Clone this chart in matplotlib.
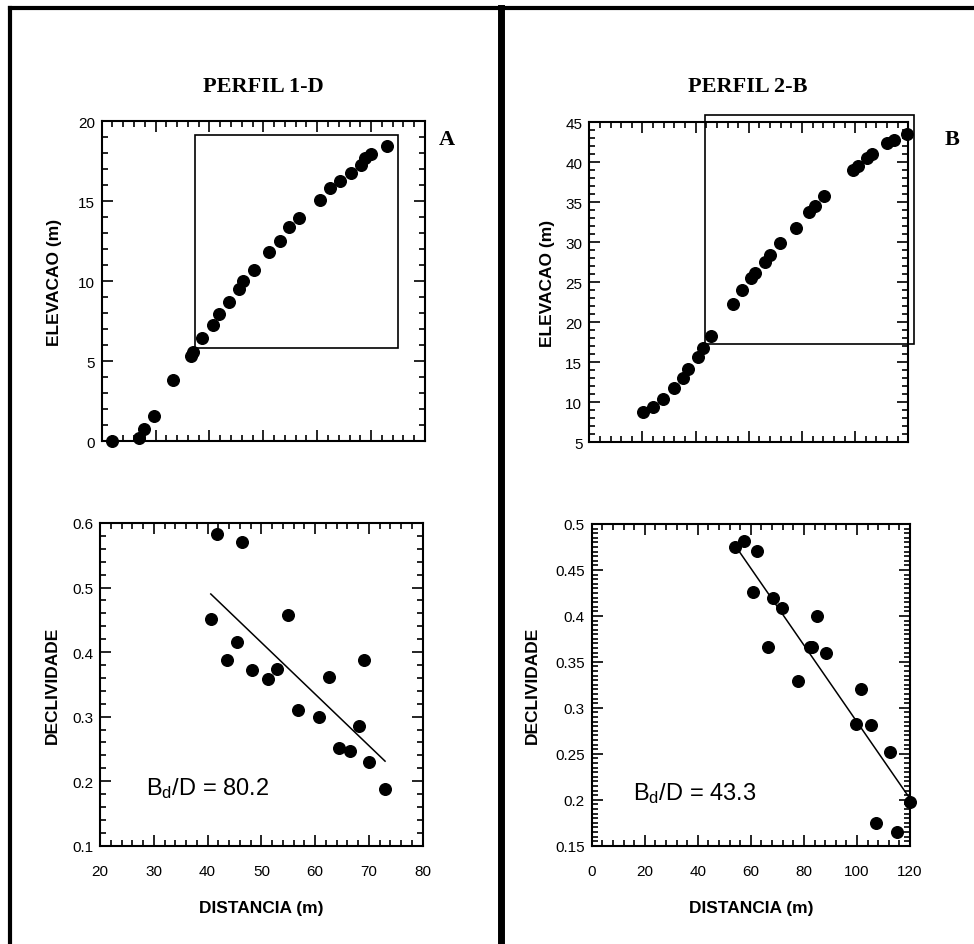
#!/usr/bin/env python3
"""
Perfis 1-D e 2-B: elevacao e declividade em funcao da distancia.
"""

import matplotlib
matplotlib.use('Agg')
import matplotlib.pyplot as plt
from matplotlib.patches import Rectangle
from matplotlib.lines import Line2D
from matplotlib.ticker import MultipleLocator, FuncFormatter

plt.rcParams['font.family'] = ['Liberation Sans', 'DejaVu Sans']
plt.rcParams['mathtext.default'] = 'regular'

# --- Perfil 1-D ---
dist_1d = [22.0, 26.9, 27.9, 29.7, 33.2, 36.6, 37.0, 38.7, 40.6, 41.8, 43.7, 45.5,
           46.3, 48.3, 51.1, 53.0, 54.8, 56.7, 60.5, 62.4, 64.3, 66.2, 68.1, 68.9,
           70.0, 72.9]
elev_1d = [0.0, 0.2, 0.77, 1.6, 3.83, 5.35, 5.6, 6.44, 7.29, 7.98, 8.73, 9.5,
           10.04, 10.73, 11.81, 12.52, 13.4, 13.96, 15.1, 15.83, 16.3, 16.8, 17.3, 17.7,
           17.94, 18.46]
box_1d_x = [37.3, 75.0]
box_1d_y = [5.85, 19.15]

dist_decl_1d = [40.6, 41.8, 46.4, 55.0, 45.5, 43.7, 48.3, 51.2, 53.0, 56.8, 60.7,
                62.5, 69.1, 68.2, 64.5, 66.4, 70.1, 72.9]
decl_1d = [0.451, 0.583, 0.570, 0.457, 0.415, 0.388, 0.372, 0.358, 0.374, 0.310,
           0.300, 0.361, 0.387, 0.285, 0.251, 0.247, 0.230, 0.188]
fit_1d_x = [40.6, 73.0]
fit_1d_y = [0.490, 0.231]

# --- Perfil 2-B ---
dist_2b = [20.1, 24.1, 27.8, 31.8, 35.1, 37.0, 41.0, 42.9, 45.8, 53.9, 57.3, 60.7,
           62.4, 66.2, 68.1, 71.7, 77.6, 82.6, 84.8, 88.3, 99.1, 101.2, 104.6, 106.5,
           112.0, 114.7, 119.5]
elev_2b = [8.75, 9.46, 10.4, 11.75, 13.1, 14.2, 15.7, 16.8, 18.3, 22.3, 24.0, 25.5,
           26.2, 27.6, 28.4, 29.9, 31.75, 33.75, 34.5, 35.8, 39.0, 39.6, 40.6, 41.0,
           42.4, 42.8, 43.5]
box_2b_x = [43.6, 122.3]
box_2b_y = [17.25, 45.96]

dist_decl_2b = [54.2, 57.5, 62.5, 60.8, 66.5, 68.2, 71.9, 77.7, 82.4, 83.1, 84.8,
                88.5, 99.6, 101.5, 105.2, 107.1, 112.5, 115.2, 120.0]
decl_2b = [0.4746, 0.4819, 0.471, 0.426, 0.3665, 0.419, 0.409, 0.3295, 0.366, 0.366,
           0.400, 0.360, 0.2824, 0.320, 0.281, 0.175, 0.252, 0.1645, 0.198]
fit_2b_x = [55.4, 119.7]
fit_2b_y = [0.471, 0.2024]

W, H = 974, 945
fig = plt.figure(figsize=(W / 100, H / 100), dpi=100)


def add_ax(left, top, right, bottom):
    return fig.add_axes([left / W, 1 - bottom / H, (right - left) / W, (bottom - top) / H])


short = FuncFormatter(lambda v, p: '%g' % round(v, 4))


def style(ax, xmaj, xmin, ymaj, ymin):
    ax.xaxis.set_major_locator(MultipleLocator(xmaj))
    ax.xaxis.set_minor_locator(MultipleLocator(xmin))
    ax.yaxis.set_major_locator(MultipleLocator(ymaj))
    ax.yaxis.set_minor_locator(MultipleLocator(ymin))
    ax.xaxis.set_major_formatter(short)
    ax.yaxis.set_major_formatter(short)
    ax.tick_params(which='both', direction='in', top=True, right=True, width=1.2,
                   labelsize=11)
    ax.tick_params(axis='y', pad=5)
    ax.tick_params(axis='x', pad=13)
    ax.tick_params(which='major', length=8)
    ax.tick_params(which='minor', length=4)
    for s in ax.spines.values():
        s.set_linewidth(1.5)


lab = dict(fontsize=12.5, fontweight='bold')
mk = dict(s=70, color='black', zorder=3, clip_on=False)

# top-left: elevation 1-D
ax1 = add_ax(101.7, 122.3, 425, 442.3)
ax1.scatter(dist_1d, elev_1d, **mk)
ax1.add_patch(Rectangle((box_1d_x[0], box_1d_y[0]), box_1d_x[1] - box_1d_x[0],
                        box_1d_y[1] - box_1d_y[0], fill=False, lw=1.2, color='black'))
ax1.set_xlim(20, 80)
ax1.set_ylim(0, 20)
style(ax1, 10, 2, 5, 1)
ax1.tick_params(labelbottom=False)
ax1.set_ylabel('ELEVACAO (m)', **lab)
ax1.yaxis.set_label_coords(-0.123, 0.5)

# bottom-left: declividade 1-D
ax2 = add_ax(100, 524, 422.7, 846.7)
ax2.scatter(dist_decl_1d, decl_1d, **mk)
ax2.plot(fit_1d_x, fit_1d_y, color='black', lw=1.1)
ax2.set_xlim(20, 80)
ax2.set_ylim(0.1, 0.6)
style(ax2, 10, 2, 0.1, 0.02)
ax2.set_ylabel('DECLIVIDADE', **lab)
ax2.yaxis.set_label_coords(-0.124, 0.5)
ax2.set_xlabel('DISTANCIA (m)', labelpad=16, **lab)
ax2.text(28.6, 0.19, 'B$_d$/D = 80.2', fontsize=17, va='center')

# top-right: elevation 2-B
ax3 = add_ax(589.3, 123.3, 908.3, 443.3)
ax3.scatter(dist_2b, elev_2b, **mk)
ax3.add_patch(Rectangle((box_2b_x[0], box_2b_y[0]), box_2b_x[1] - box_2b_x[0],
                        box_2b_y[1] - box_2b_y[0], fill=False, lw=1.2, color='black',
                        clip_on=False))
ax3.set_xlim(0, 120)
ax3.set_ylim(5, 45)
style(ax3, 20, 4, 5, 1)
ax3.tick_params(labelbottom=False)
ax3.set_ylabel('ELEVACAO (m)', **lab)
ax3.yaxis.set_label_coords(-0.107, 0.5)

# bottom-right: declividade 2-B
ax4 = add_ax(591.7, 525, 910, 846.7)
ax4.scatter(dist_decl_2b, decl_2b, **mk)
ax4.plot(fit_2b_x, fit_2b_y, color='black', lw=1.1)
ax4.set_xlim(0, 120)
ax4.set_ylim(0.15, 0.5)
style(ax4, 20, 4, 0.05, 0.005)
ax4.set_ylabel('DECLIVIDADE', **lab)
ax4.yaxis.set_label_coords(-0.162, 0.5)
ax4.set_xlabel('DISTANCIA (m)', labelpad=16, **lab)
ax4.text(15.5, 0.208, 'B$_d$/D = 43.3', fontsize=17, va='center')

# titles and panel letters
serif = dict(family=['Liberation Serif', 'DejaVu Serif'], fontweight='bold')
fig.text(263 / W, 1 - 87 / H, 'PERFIL 1-D', ha='center', va='center', fontsize=16, **serif)
fig.text(748 / W, 1 - 87 / H, 'PERFIL 2-B', ha='center', va='center', fontsize=16, **serif)
fig.text(447 / W, 1 - 140 / H, 'A', ha='center', va='center', fontsize=16, **serif)
fig.text(952 / W, 1 - 140 / H, 'B', ha='center', va='center', fontsize=16, **serif)

# outer frame and divider
fig.add_artist(Line2D([10 / W, 10 / W], [0, 1 - 9 / H], transform=fig.transFigure,
                      color='black', lw=3))
fig.add_artist(Line2D([10 / W, 1], [1 - 9 / H, 1 - 9 / H], transform=fig.transFigure,
                      color='black', lw=3))
fig.add_artist(Line2D([501 / W, 501 / W], [0, 1 - 9 / H], transform=fig.transFigure,
                      color='black', lw=5))

fig.savefig('out.png', dpi=100)
